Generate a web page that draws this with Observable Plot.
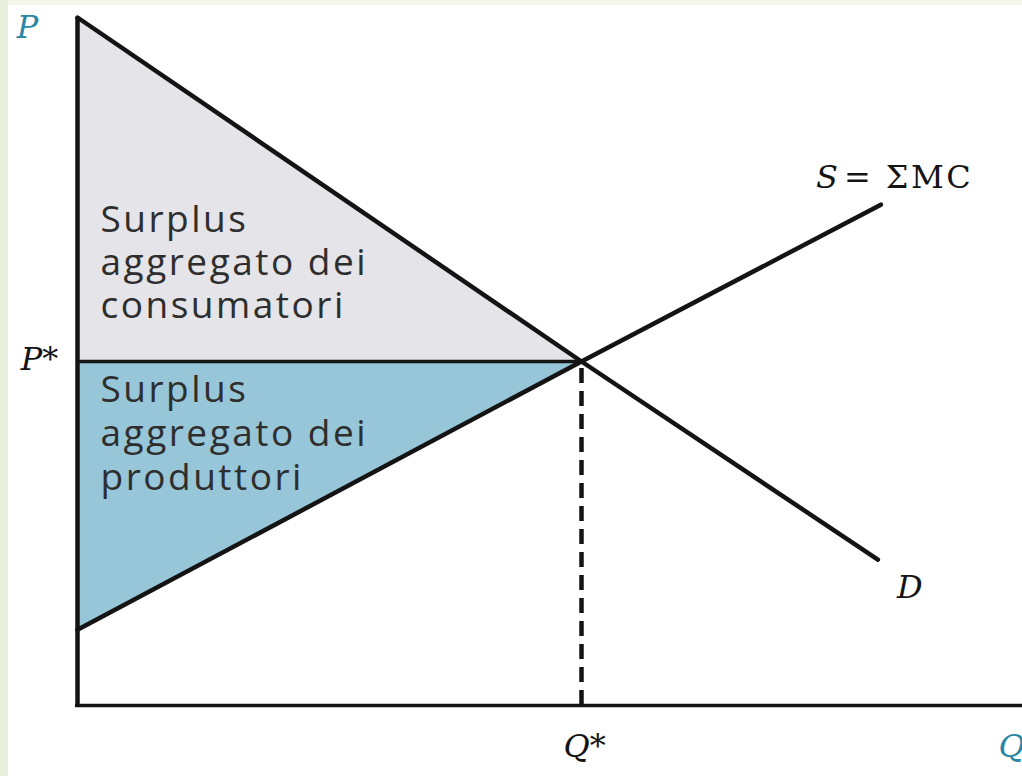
<!DOCTYPE html>
<html>
<head>
<meta charset="utf-8">
<script src="https://cdn.jsdelivr.net/npm/d3@7"></script>
<script src="https://cdn.jsdelivr.net/npm/@observablehq/plot@0.6"></script>
<style>
  html, body { margin: 0; padding: 0; overflow: hidden; background: #e8eed9; width: 1022px; height: 776px; }
  #topstrip { position: absolute; left: 8px; top: 0; width: 1014px; height: 5px; background: #f3f6ea; }
  #chart { position: absolute; left: 8px; top: 5px; width: 1014px; height: 771px; background: white; }
</style>
</head>
<body>
<div id="topstrip"></div>
<div id="chart"></div>
<script>
// ---- data ----
const qStar = 5;
const pStar = 5;
const demandQ = [0, 5, 7.94];
const demandP = [10, 5, 2.12];
const supplyQ = [0, 5, 7.97];
const supplyP = [1.1, 5, 7.28];
const consumerLabel = ["Surplus", "aggregato dei", "consumatori"];
const producerLabel = ["Surplus", "aggregato dei", "produttori"];
const consumerLabelP = 6.46;
const producerLabelP = 3.97;
const qMax = 9.375;
const pMax = 10;

const demand = demandQ.map((q, i) => ({q, p: demandP[i]}));
const supply = supplyQ.map((q, i) => ({q, p: supplyP[i]}));
const demandLeft = demand.filter(d => d.q <= qStar);
const supplyLeft = supply.filter(d => d.q <= qStar);

const serif = "'DejaVu Serif', 'Liberation Serif', serif";
const sans = "'Open Sans', 'Lato', sans-serif";
const ink = "#141414";

const chart = Plot.plot({
  width: 1014,
  height: 771,
  marginLeft: 69,
  marginRight: 0,
  marginTop: 12,
  marginBottom: 71,
  x: {domain: [0, qMax], axis: null},
  y: {domain: [0, pMax], axis: null},
  style: {background: "white", overflow: "hidden"},
  marks: [
    // consumer surplus
    Plot.areaY(demandLeft, {x: "q", y1: pStar, y2: "p", fill: "#e4e4e9"}),
    // producer surplus
    Plot.areaY(supplyLeft, {x: "q", y1: "p", y2: pStar, fill: "#97c6d9"}),
    // P* line
    Plot.ruleY([pStar], {x1: 0, x2: qStar, stroke: ink, strokeWidth: 3.5}),
    // Q* dashed
    Plot.ruleX([qStar], {y1: 0, y2: pStar, stroke: ink, strokeWidth: 4.5, strokeDasharray: "15,8"}),
    // axes
    Plot.ruleY([0], {x1: -0.02, x2: qMax, stroke: ink, strokeWidth: 3.5}),
    Plot.ruleX([0], {y1: 0, y2: pMax, stroke: ink, strokeWidth: 4.5}),
    // curves
    Plot.line(demand, {x: "q", y: "p", stroke: ink, strokeWidth: 4.5}),
    Plot.line(supply, {x: "q", y: "p", stroke: ink, strokeWidth: 4.5}),
    // surplus labels
    Plot.text([consumerLabel.join("\n")], {x: 0, y: consumerLabelP, text: d => d, textAnchor: "start", dx: 23,
      lineHeight: 1.17, fontSize: 37, fontFamily: sans, fill: "#2e2e2e"}),
    Plot.text([producerLabel.join("\n")], {x: 0, y: producerLabelP, text: d => d, textAnchor: "start", dx: 23,
      lineHeight: 1.19, fontSize: 37, fontFamily: sans, fill: "#2e2e2e"}),
    // axis labels
    Plot.text(["P"], {x: 0, y: pMax, text: d => d, dx: -50, dy: 10, fontSize: 32, fontStyle: "italic", fontFamily: serif, fill: "#2a86a3"}),
    Plot.text(["P*"], {x: 0, y: pStar, text: d => d, dx: -38, dy: -2, fontSize: 32, fontStyle: "italic", fontFamily: serif, fill: ink}),
    Plot.text(["Q*"], {x: qStar, y: 0, text: d => d, dx: 3, dy: 41, fontSize: 32, fontStyle: "italic", fontFamily: serif, fill: ink}),
    Plot.text(["Q"], {x: qMax, y: 0, text: d => d, textAnchor: "start", dx: -24, dy: 41, fontSize: 32, fontStyle: "italic", fontFamily: serif, fill: "#2a86a3"}),
    Plot.text(["D"], {x: demandQ[2], y: demandP[2], text: d => d, dx: 32, dy: 28, fontSize: 32, fontStyle: "italic", fontFamily: serif, fill: ink}),
    Plot.text(["S"], {x: supplyQ[2], y: supplyP[2], text: d => d, textAnchor: "start", dx: -65, dy: -27, fontSize: 32, fontStyle: "italic", fontFamily: serif, fill: ink}),
    Plot.text(["= ΣMC"], {x: supplyQ[2], y: supplyP[2], text: d => d, textAnchor: "start", dx: -37, dy: -27, fontSize: 32, fontFamily: serif, fill: ink})
  ]
});
// letter spacing (not a Plot text option): applied to the rendered text
d3.select(chart).selectAll("text").each(function() {
  const t = this.textContent;
  if (t.includes("Surplus")) this.style.letterSpacing = "2.5px";
  else if (t.includes("ΣMC")) this.style.letterSpacing = "2.5px";
});
document.getElementById("chart").appendChild(chart);
</script>
</body>
</html>
